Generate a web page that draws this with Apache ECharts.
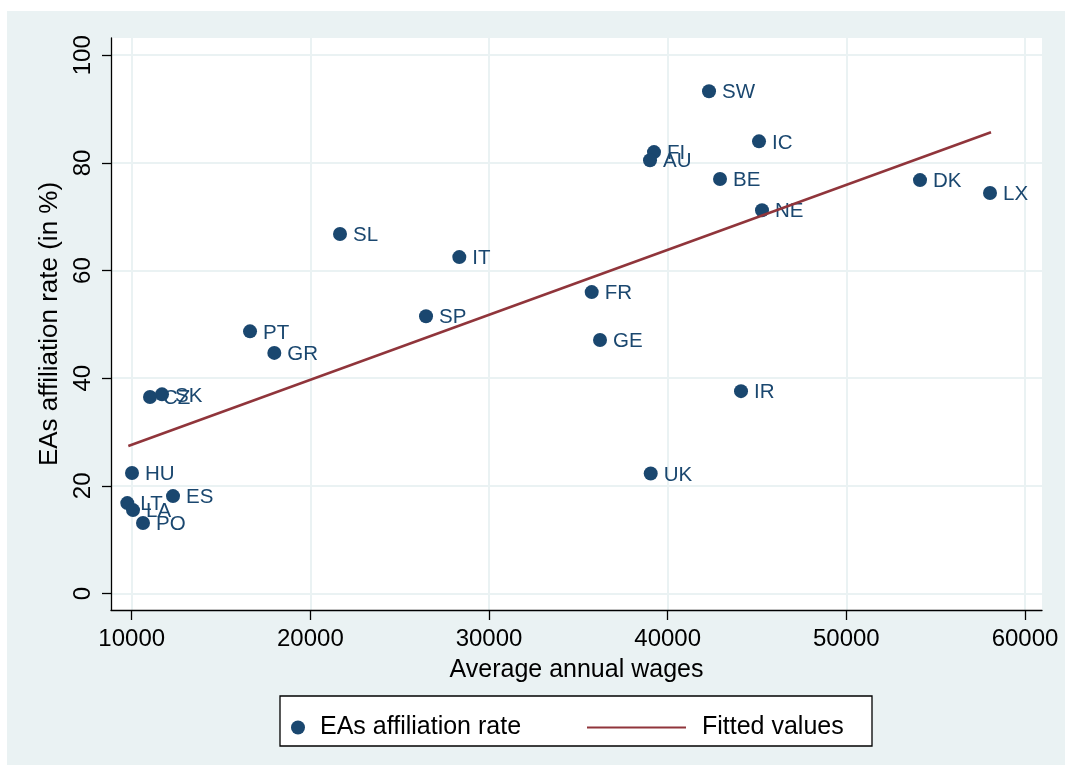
<!DOCTYPE html>
<html>
<head>
<meta charset="utf-8">
<script src="https://cdn.jsdelivr.net/npm/echarts@6/dist/echarts.min.js"></script>
<style>
html,body{margin:0;padding:0;background:#fff;}
#chart{width:1065px;height:778px;}
</style>
</head>
<body>
<div id="chart"></div>
<script>
// Country codes
var countries = ['SW','IC','FI','AU','BE','DK','NE','LX','IT','SL','FR','GE','SP','PT','GR','IR','UK','SK','CZ','HU','ES','LT','LA','PO'];
// Average annual wages
var wages = [42313,45111,39234,39010,42929,54123,45279,58041,28336,21659,35747,36212,26473,16622,17982,44104,39050,11696,11024,10017,12312,9754,10073,10632];
// EAs affiliation rate (in %)
var rates = [93.3,84.0,82.0,80.5,77.0,76.8,71.2,74.4,62.5,66.8,56.0,47.1,51.5,48.7,44.7,37.6,22.3,37.0,36.5,22.4,18.1,16.8,15.5,13.1];
// Fitted values (endpoints of the linear fit)
var fitX = [9810, 58097];
var fitY = [27.4, 85.7];
// Tick labels
var xTicks = [10000,20000,30000,40000,50000,60000];
var yTicks = [0,20,40,60,80,100];

var FONT = '"Liberation Sans", Arial, Helvetica, sans-serif';
var NAVY = '#1a476f';
var MAROON = '#90353b';
var BG = '#eaf2f3';

var scatterData = countries.map(function(c, i){ return {name: c, value: [wages[i], rates[i]]}; });
var fitData = fitX.map(function(x, i){ return [x, fitY[i]]; });

var chart = echarts.init(document.getElementById('chart'), null, {renderer: 'canvas'});
chart.setOption({
  animation: false,
  textStyle: {fontFamily: FONT},
  graphic: [
    {type: 'rect', z: -10, silent: true, shape: {x: 7, y: 11, width: 1058, height: 754}, style: {fill: BG}},
    {type: 'rect', z: 1, silent: true, shape: {x: 280, y: 696, width: 592, height: 50}, style: {fill: '#fff', stroke: '#000', lineWidth: 1.3}}
  ],
  grid: {left: 111, right: 23, top: 38, bottom: 168, show: true, backgroundColor: '#fff', borderWidth: 0, containLabel: false},
  xAxis: {
    type: 'value', min: 8841, max: 60951,
    name: 'Average annual wages', nameLocation: 'middle', nameGap: 48,
    nameTextStyle: {fontSize: 25, color: '#000', fontFamily: FONT},
    axisLine: {show: true, onZero: false, lineStyle: {color: '#000', width: 1.3}},
    axisTick: {show: true, length: 10, customValues: xTicks, lineStyle: {color: '#000', width: 1.3}},
    axisLabel: {show: true, margin: 17, fontSize: 24, color: '#000', fontFamily: FONT, customValues: xTicks,
      formatter: function(v){ return String(v); }},
    splitLine: {show: true, lineStyle: {color: BG, width: 2}}
  },
  yAxis: {
    type: 'value', min: -3.06, max: 103.2,
    name: 'EAs affiliation rate (in %)', nameLocation: 'middle', nameGap: 41, nameRotate: 90,
    nameTextStyle: {fontSize: 26, color: '#000', fontFamily: FONT},
    axisLine: {show: true, onZero: false, lineStyle: {color: '#000', width: 1.3}},
    axisTick: {show: true, length: 9, customValues: yTicks, lineStyle: {color: '#000', width: 1.3}},
    axisLabel: {show: true, rotate: 90, margin: 16, fontSize: 24, color: '#000', fontFamily: FONT, customValues: yTicks,
      formatter: function(v){ return String(v); }},
    splitLine: {show: true, lineStyle: {color: BG, width: 2}}
  },
  legend: [
    {
      data: ['EAs affiliation rate'], left: 291, top: 715, padding: 0,
      itemWidth: 14, itemHeight: 14, selectedMode: false,
      textStyle: {fontSize: 25, color: '#000', fontFamily: FONT, padding: [0, 0, 0, 10]}
    },
    {
      data: [{name: 'Fitted values', itemStyle: {opacity: 0}}], left: 586, top: 715, padding: 0,
      itemWidth: 99, itemHeight: 14, selectedMode: false,
      textStyle: {fontSize: 25, color: '#000', fontFamily: FONT, padding: [0, 0, 0, 11]}
    }
  ],
  series: [
    {
      name: 'EAs affiliation rate', type: 'scatter', symbol: 'circle', symbolSize: 14,
      itemStyle: {color: NAVY, opacity: 1},
      label: {show: true, position: 'right', distance: 6, offset: [0, 1.5], formatter: '{b}', fontSize: 20.5, color: NAVY, fontFamily: FONT},
      emphasis: {disabled: true},
      data: scatterData
    },
    {
      name: 'Fitted values', type: 'line', symbol: 'none', showSymbol: false,
      lineStyle: {color: MAROON, width: 2.5}, itemStyle: {color: MAROON},
      emphasis: {disabled: true},
      data: fitData
    }
  ]
});
</script>
</body>
</html>
